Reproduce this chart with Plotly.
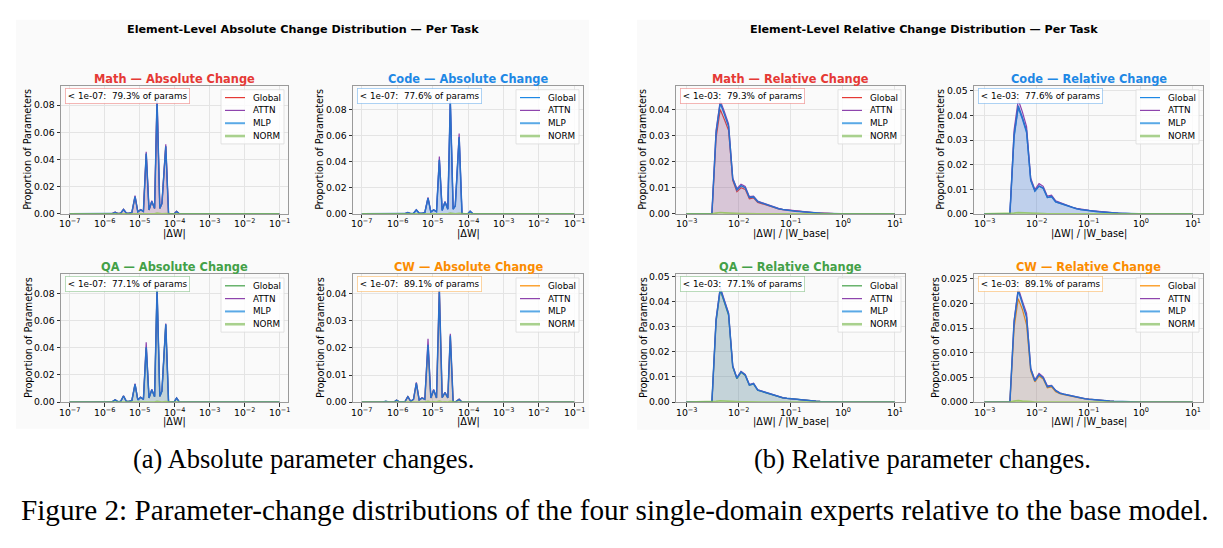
import plotly.graph_objects as go

W, H = 1223, 548

TASKS = ["Math", "Code", "QA", "CW"]
TASK_COLORS = {"Math": "#e53935", "Code": "#1e88e5", "QA": "#43a047", "CW": "#fb8c00"}
TASK_RGB = {"Math": (229, 57, 53), "Code": (30, 136, 229), "QA": (67, 160, 71), "CW": (251, 140, 0)}
PCT_BELOW = {"Math": "79.3%", "Code": "77.6%", "QA": "77.1%", "CW": "89.1%"}

# log10 bin centres
ABS_LOG10_X = [-7.00, -6.40, -6.32, -6.24, -6.16, -6.08, -6.02, -5.94, -5.86, -5.78,
               -5.70, -5.62, -5.54, -5.46, -5.38, -5.30, -5.22, -5.13, -5.05, -4.97,
               -4.89, -4.81, -4.73, -4.65, -4.57, -4.50, -4.42, -4.36, -4.25, -4.17,
               -4.08, -4.00, -3.94, -3.86, -1.00]
REL_LOG10_X = [-3.00, -2.51, -2.43, -2.35, -2.27, -2.19, -2.11, -2.03, -1.95, -1.87,
               -1.79, -1.71, -1.63, -1.55, -1.47, -1.39, -1.31, -1.23, -1.15, -1.07,
               -0.99, -0.91, -0.83, -0.75, -0.67, -0.59, -0.51, -0.43, -0.35, -0.27,
               -0.19, -0.11, -0.03, 1.00]

ABS_GLOBAL = {
    "Math": [0, 0, 0, 0, 0, 0, 0, 0, 0, 0.0002, 0.0012, 0.0002, 0.0005, 0.0032, 0.0006, 0.0004, 0.0010, 0.0125, 0.0015, 0.0030,
             0.0018, 0.0440, 0.0028, 0.0090, 0.0040, 0.0835, 0.0040, 0.0075, 0.0495, 0, 0, 0.0003, 0.0018, 0, 0],
    "Code": [0, 0, 0, 0, 0, 0, 0, 0, 0, 0.0002, 0.0010, 0.0002, 0.0004, 0.0030, 0.0005, 0.0004, 0.0010, 0.0120, 0.0014, 0.0030,
             0.0016, 0.0410, 0.0026, 0.0090, 0.0035, 0.0860, 0.0036, 0.0060, 0.0585, 0, 0, 0.0002, 0.0020, 0, 0],
    "QA":   [0, 0, 0, 0, 0, 0, 0, 0, 0.0001, 0.0003, 0.0017, 0.0003, 0.0006, 0.0045, 0.0006, 0.0005, 0.0012, 0.0130, 0.0016, 0.0035,
             0.0020, 0.0400, 0.0030, 0.0090, 0.0040, 0.0830, 0.0042, 0.0080, 0.0570, 0, 0, 0.0005, 0.0030, 0, 0],
    "CW":   [0, 0, 0.0003, 0, 0, 0.0001, 0.0007, 0.0001, 0.0001, 0.0002, 0.0020, 0.0003, 0.0010, 0.0068, 0.0008, 0.0015, 0.0010, 0.0205, 0.0015, 0.0044,
             0.0015, 0.0405, 0.0016, 0.0034, 0.0015, 0.0240, 0, 0, 0.0010, 0, 0, 0, 0, 0, 0],
}
ABS_ATTN = {
    "Math": [0, 0, 0, 0, 0, 0, 0, 0, 0, 0.0002, 0.0013, 0.0002, 0.0005, 0.0034, 0.0006, 0.0004, 0.0011, 0.0135, 0.0016, 0.0032,
             0.0019, 0.0458, 0.0030, 0.0097, 0.0042, 0.0866, 0.0042, 0.0079, 0.0512, 0, 0, 0.0003, 0.0019, 0, 0],
    "Code": [0, 0, 0, 0, 0, 0, 0, 0, 0, 0.0002, 0.0011, 0.0002, 0.0004, 0.0032, 0.0005, 0.0004, 0.0011, 0.0127, 0.0015, 0.0032,
             0.0017, 0.0440, 0.0028, 0.0096, 0.0037, 0.0880, 0.0038, 0.0064, 0.0618, 0, 0, 0.0002, 0.0021, 0, 0],
    "QA":   [0, 0, 0, 0, 0, 0, 0, 0, 0.0001, 0.0003, 0.0018, 0.0003, 0.0006, 0.0047, 0.0006, 0.0005, 0.0013, 0.0136, 0.0017, 0.0037,
             0.0021, 0.0442, 0.0032, 0.0094, 0.0042, 0.0845, 0.0044, 0.0083, 0.0580, 0, 0, 0.0005, 0.0031, 0, 0],
    "CW":   [0, 0, 0.0003, 0, 0, 0.0001, 0.0007, 0.0001, 0.0001, 0.0002, 0.0021, 0.0003, 0.0011, 0.0073, 0.0008, 0.0016, 0.0011, 0.0234, 0.0016, 0.0047,
             0.0016, 0.0422, 0.0017, 0.0036, 0.0016, 0.0252, 0, 0, 0.0011, 0, 0, 0, 0, 0, 0],
}
ABS_MLP = {
    "Math": [0, 0, 0, 0, 0, 0, 0, 0, 0, 0.0002, 0.0012, 0.0002, 0.0005, 0.0032, 0.0006, 0.0004, 0.0010, 0.0127, 0.0015, 0.0030,
             0.0018, 0.0445, 0.0029, 0.0091, 0.0040, 0.0840, 0.0040, 0.0076, 0.0498, 0, 0, 0.0003, 0.0018, 0, 0],
    "Code": [0, 0, 0, 0, 0, 0, 0, 0, 0, 0.0002, 0.0010, 0.0002, 0.0004, 0.0030, 0.0005, 0.0004, 0.0010, 0.0121, 0.0014, 0.0030,
             0.0016, 0.0415, 0.0026, 0.0091, 0.0035, 0.0865, 0.0036, 0.0061, 0.0590, 0, 0, 0.0002, 0.0020, 0, 0],
    "QA":   [0, 0, 0, 0, 0, 0, 0, 0, 0.0001, 0.0003, 0.0017, 0.0003, 0.0006, 0.0045, 0.0006, 0.0005, 0.0012, 0.0131, 0.0016, 0.0035,
             0.0020, 0.0405, 0.0030, 0.0091, 0.0040, 0.0835, 0.0042, 0.0081, 0.0574, 0, 0, 0.0005, 0.0030, 0, 0],
    "CW":   [0, 0, 0.0003, 0, 0, 0.0001, 0.0007, 0.0001, 0.0001, 0.0002, 0.0020, 0.0003, 0.0010, 0.0070, 0.0008, 0.0015, 0.0010, 0.0212, 0.0015, 0.0045,
             0.0015, 0.0412, 0.0016, 0.0035, 0.0015, 0.0246, 0, 0, 0.0010, 0, 0, 0, 0, 0, 0],
}
ABS_NORM = {
    "Math": [0, 0, 0, 0, 0, 0, 0, 0, 0, 0, 0, 0, 0, 0.0001, 0, 0, 0, 0.0003, 0, 0.0001,
             0, 0.0005, 0, 0.0002, 0, 0.0006, 0, 0.0001, 0.0003, 0, 0, 0, 0, 0, 0],
    "Code": [0, 0, 0, 0, 0, 0, 0, 0, 0, 0, 0, 0, 0, 0.0001, 0, 0, 0, 0.0002, 0, 0.0001,
             0, 0.0004, 0, 0.0002, 0, 0.0006, 0, 0.0001, 0.0004, 0, 0, 0, 0, 0, 0],
    "QA":   [0, 0, 0, 0, 0, 0, 0, 0, 0, 0, 0, 0, 0, 0.0001, 0, 0, 0, 0.0003, 0, 0.0001,
             0, 0.0004, 0, 0.0002, 0, 0.0006, 0, 0.0001, 0.0004, 0, 0, 0, 0, 0, 0],
    "CW":   [0, 0, 0, 0, 0, 0, 0, 0, 0, 0, 0.0001, 0, 0, 0.0002, 0, 0, 0, 0.0003, 0, 0.0001,
             0, 0.0004, 0, 0.0001, 0, 0.0003, 0, 0, 0, 0, 0, 0, 0, 0, 0],
}

REL_GLOBAL = {
    "Math": [0, 0, 0.0290, 0.0400, 0.0362, 0.0320, 0.0128, 0.0085, 0.0100, 0.0094, 0.0058, 0.0061, 0.0044, 0.0039, 0.0033, 0.0028, 0.0023,
             0.0019, 0.0016, 0.0014, 0.0012, 0.0010, 0.00085, 0.0007, 0.00057, 0.00045, 0.00035, 0.00026, 0.00018, 0.00012, 0.00007, 0.00004, 0.00002, 0],
    "Code": [0, 0, 0.0310, 0.0430, 0.0385, 0.0330, 0.0135, 0.0092, 0.0112, 0.0103, 0.0066, 0.0069, 0.0048, 0.0042, 0.0036, 0.0030, 0.0025,
             0.0021, 0.0017, 0.0015, 0.0013, 0.0011, 0.0009, 0.00075, 0.0006, 0.00047, 0.00036, 0.00027, 0.00019, 0.00012, 0.00007, 0.00004, 0.00002, 0],
    "QA":   [0, 0, 0.0320, 0.0444, 0.0395, 0.0345, 0.0140, 0.0093, 0.0118, 0.0106, 0.0067, 0.0072, 0.0047, 0.0042, 0.0036, 0.0030, 0.0025,
             0.0021, 0.0017, 0.0015, 0.0013, 0.0011, 0.0009, 0.00075, 0.0006, 0.00047, 0.00036, 0.00027, 0.00019, 0.00012, 0.00007, 0.00004, 0.00002, 0],
    "CW":   [0, 0, 0.0150, 0.0210, 0.0188, 0.0157, 0.0063, 0.0041, 0.0053, 0.0047, 0.0029, 0.0031, 0.0021, 0.0017, 0.0015, 0.0013, 0.0011,
             0.0009, 0.0008, 0.00068, 0.00058, 0.00048, 0.0004, 0.00033, 0.00027, 0.00021, 0.00016, 0.00012, 0.00008, 0.00005, 0.00003, 0.00002, 0.00001, 0],
}
REL_ATTN = {
    "Math": [0, 0, 0.0320, 0.0434, 0.0392, 0.0345, 0.0138, 0.0097, 0.0114, 0.0105, 0.0066, 0.0068, 0.0049, 0.0043, 0.0036, 0.0030, 0.0025,
             0.0021, 0.0017, 0.0015, 0.0013, 0.0011, 0.0009, 0.00075, 0.0006, 0.00047, 0.00036, 0.00027, 0.00019, 0.00012, 0.00007, 0.00004, 0.00002, 0],
    "Code": [0, 0, 0.0340, 0.0464, 0.0415, 0.0355, 0.0145, 0.0099, 0.0123, 0.0112, 0.0072, 0.0076, 0.0053, 0.0046, 0.0039, 0.0033, 0.0027,
             0.0023, 0.0019, 0.0016, 0.0014, 0.0012, 0.0010, 0.0008, 0.00065, 0.0005, 0.00038, 0.00028, 0.0002, 0.00013, 0.00008, 0.00004, 0.00002, 0],
    "QA":   [0, 0, 0.0330, 0.0457, 0.0405, 0.0355, 0.0145, 0.0097, 0.0122, 0.0110, 0.0070, 0.0075, 0.0049, 0.0044, 0.0037, 0.0031, 0.0026,
             0.0022, 0.0018, 0.0015, 0.0013, 0.0011, 0.0009, 0.00077, 0.00062, 0.00048, 0.00037, 0.00027, 0.00019, 0.00012, 0.00007, 0.00004, 0.00002, 0],
    "CW":   [0, 0, 0.0165, 0.0231, 0.0205, 0.0180, 0.0069, 0.0045, 0.0058, 0.0051, 0.0033, 0.0034, 0.0024, 0.0019, 0.0016, 0.0014, 0.0012,
             0.0010, 0.00085, 0.00072, 0.00061, 0.00051, 0.00042, 0.00035, 0.00028, 0.00022, 0.00017, 0.00012, 0.00008, 0.00005, 0.00003, 0.00002, 0.00001, 0],
}
REL_MLP = {
    "Math": [0, 0, 0.0310, 0.0425, 0.0382, 0.0336, 0.0134, 0.0092, 0.0108, 0.0100, 0.0063, 0.0065, 0.0047, 0.0041, 0.0035, 0.0029, 0.0024,
             0.0020, 0.0017, 0.0014, 0.0012, 0.0010, 0.00087, 0.00072, 0.00058, 0.00046, 0.00035, 0.00026, 0.00018, 0.00012, 0.00007, 0.00004, 0.00002, 0],
    "Code": [0, 0, 0.0320, 0.0440, 0.0392, 0.0337, 0.0138, 0.0094, 0.0114, 0.0105, 0.0067, 0.0071, 0.0049, 0.0043, 0.0037, 0.0031, 0.0026,
             0.0021, 0.0018, 0.0015, 0.0013, 0.0011, 0.0009, 0.00076, 0.0006, 0.00047, 0.00036, 0.00027, 0.00019, 0.00012, 0.00007, 0.00004, 0.00002, 0],
    "QA":   [0, 0, 0.0325, 0.0450, 0.0400, 0.0350, 0.0142, 0.0095, 0.0120, 0.0108, 0.0068, 0.0073, 0.0048, 0.0043, 0.0036, 0.0030, 0.0025,
             0.0021, 0.0017, 0.0015, 0.0013, 0.0011, 0.0009, 0.00075, 0.0006, 0.00047, 0.00036, 0.00027, 0.00019, 0.00012, 0.00007, 0.00004, 0.00002, 0],
    "CW":   [0, 0, 0.0162, 0.0227, 0.0200, 0.0172, 0.0067, 0.0043, 0.0056, 0.0049, 0.0031, 0.0033, 0.0023, 0.0018, 0.0016, 0.0014, 0.0012,
             0.0010, 0.0008, 0.0007, 0.0006, 0.0005, 0.0004, 0.00034, 0.00027, 0.00021, 0.00016, 0.00012, 0.00008, 0.00005, 0.00003, 0.00002, 0.00001, 0],
}
REL_NORM = {
    "Math": [0, 0, 0.0003, 0.0005, 0.0004, 0.0003, 0.0001, 0.0001, 0.0001, 0.0001, 0, 0, 0, 0, 0, 0, 0,
             0, 0, 0, 0, 0, 0, 0, 0, 0, 0, 0, 0, 0, 0, 0, 0, 0],
    "Code": [0, 0, 0.0003, 0.0005, 0.0004, 0.0003, 0.0001, 0.0001, 0.0001, 0.0001, 0, 0, 0, 0, 0, 0, 0,
             0, 0, 0, 0, 0, 0, 0, 0, 0, 0, 0, 0, 0, 0, 0, 0, 0],
    "QA":   [0, 0, 0.0003, 0.0005, 0.0004, 0.0003, 0.0001, 0.0001, 0.0001, 0.0001, 0, 0, 0, 0, 0, 0, 0,
             0, 0, 0, 0, 0, 0, 0, 0, 0, 0, 0, 0, 0, 0, 0, 0, 0],
    "CW":   [0, 0, 0.0002, 0.0003, 0.0002, 0.0002, 0.0001, 0, 0, 0, 0, 0, 0, 0, 0, 0, 0,
             0, 0, 0, 0, 0, 0, 0, 0, 0, 0, 0, 0, 0, 0, 0, 0, 0],
}

ABS_YMAX = {"Math": 0.0943, "Code": 0.0984, "QA": 0.0945, "CW": 0.0473}
REL_YMAX = {"Math": 0.0491, "Code": 0.0521, "QA": 0.0509, "CW": 0.0260}
ABS_YDTICK = {"Math": 0.02, "Code": 0.02, "QA": 0.02, "CW": 0.01}
REL_YDTICK = {"Math": 0.01, "Code": 0.01, "QA": 0.01, "CW": 0.005}
ABS_XTICK_EXP = [-7, -6, -5, -4, -3, -2, -1]
REL_XTICK_EXP = [-3, -2, -1, 0, 1]

SERIES_STYLE = {
    "ATTN": "#8e44ad",
    "MLP": "#2b6fca",
    "NORM": "#8bc34a",
}
LEGEND_STYLE = [("Global", None, 1.2), ("ATTN", "#8e44ad", 1.2), ("MLP", "#5aa9e6", 2.0), ("NORM", "#a9d18e", 2.6)]

# ---------------- layout geometry (pixels) ----------------
PANELS = [
    ("abs", "Math", (61, 84, 288, 214)),
    ("abs", "Code", (353, 84, 583, 214)),
    ("abs", "QA", (61, 275, 288, 405)),
    ("abs", "CW", (353, 275, 583, 405)),
    ("rel", "Math", (676, 84, 905, 214)),
    ("rel", "Code", (974, 84, 1203, 214)),
    ("rel", "QA", (676, 275, 905, 405)),
    ("rel", "CW", (974, 275, 1203, 405)),
]

FONT = "DejaVu Sans"
SERIF = "Liberation Serif, Times New Roman, serif"


def fx(px):
    return px / W


def fy(py):
    return 1 - py / H


def rgba(rgb, a):
    return "rgba(%d,%d,%d,%.3f)" % (rgb[0], rgb[1], rgb[2], a)


def sup_label(e):
    if e < 0:
        return "10<sup>\u2212%d</sup>" % (-e)
    return "10<sup>%d</sup>" % e


fig = go.Figure()
layout = dict(
    width=W, height=H, margin=dict(l=0, r=0, t=0, b=0),
    paper_bgcolor="white", plot_bgcolor="#fafafa", showlegend=False,
    hovermode=False, font=dict(family=FONT, size=9, color="#000000"),
)
shapes = []
annotations = []

# gray group backgrounds
for (x0, y0, x1, y1) in [(16, 17, 589, 432), (637, 17, 1210, 433)]:
    shapes.append(dict(type="rect", xref="paper", yref="paper", x0=fx(x0), x1=fx(x1),
                       y0=fy(y1), y1=fy(y0), fillcolor="#fafafa", line=dict(width=0), layer="below"))

# group titles
for text, cx in [("Element-Level Absolute Change Distribution \u2014 Per Task", 302.5),
                 ("Element-Level Relative Change Distribution \u2014 Per Task", 923.5)]:
    annotations.append(dict(text="<b>%s</b>" % text, x=fx(cx), y=fy(27), xref="paper", yref="paper",
                            showarrow=False, xanchor="center", yanchor="middle",
                            font=dict(family=FONT, size=11.2, color="#000")))

for i, (kind, task, box) in enumerate(PANELS, start=1):
    l, t, r, b = box
    xname = "xaxis" if i == 1 else "xaxis%d" % i
    yname = "yaxis" if i == 1 else "yaxis%d" % i
    xref = "x" if i == 1 else "x%d" % i
    yref = "y" if i == 1 else "y%d" % i
    tcol = TASK_COLORS[task]
    trgb = TASK_RGB[task]

    if kind == "abs":
        xs_log = ABS_LOG10_X
        data = [("Global", ABS_GLOBAL[task]), ("ATTN", ABS_ATTN[task]), ("MLP", ABS_MLP[task]), ("NORM", ABS_NORM[task])]
        xexp = ABS_XTICK_EXP
        xrange = [-7.25, -0.75]
        ymax = ABS_YMAX[task]
        dt = ABS_YDTICK[task]
        fmt = ".2f"
        thr = "1e-07"
        xlabel = "|\u0394W|"
        title = "%s \u2014 Absolute Change" % task
        ylab_off = 33
    else:
        xs_log = REL_LOG10_X
        data = [("Global", REL_GLOBAL[task]), ("ATTN", REL_ATTN[task]), ("MLP", REL_MLP[task]), ("NORM", REL_NORM[task])]
        xexp = REL_XTICK_EXP
        xrange = [-3.2, 1.2]
        ymax = REL_YMAX[task]
        dt = REL_YDTICK[task]
        fmt = ".3f" if dt < 0.01 else ".2f"
        thr = "1e-03"
        xlabel = "|\u0394W| / |W_base|"
        title = "%s \u2014 Relative Change" % task
        ylab_off = 39 if dt < 0.01 else 33

    xs = [10 ** e for e in xs_log]
    for name, ys in data:
        if name == "Global":
            lc, lw, fc = tcol, 1.2, rgba(trgb, 0.15)
        elif name == "ATTN":
            lc, lw, fc = SERIES_STYLE["ATTN"], 1.2, "rgba(142,68,173,0.10)"
        elif name == "MLP":
            lc, lw, fc = SERIES_STYLE["MLP"], 1.5, "rgba(52,152,219,0.10)"
        else:
            lc, lw, fc = "rgba(139,195,74,0.75)", 1.6, "rgba(139,195,74,0.10)"
        fig.add_trace(go.Scatter(x=xs, y=ys, mode="lines", name=name,
                                 line=dict(color=lc, width=lw), fill="tozeroy", fillcolor=fc,
                                 xaxis=xref, yaxis=yref, hoverinfo="skip"))

    layout[xname] = dict(
        domain=[fx(l), fx(r)], anchor=yref, type="log", range=xrange,
        tickvals=[10 ** e for e in xexp], showticklabels=False,
        showline=True, mirror=True, linecolor="#9a9a9a", linewidth=1,
        ticks="outside", ticklen=3.5, tickwidth=0.8, tickcolor="#333",
        showgrid=True, gridcolor="#e4e4e4", gridwidth=0.7, zeroline=False,
        fixedrange=True,
    )
    layout[yname] = dict(
        domain=[fy(b), fy(t)], anchor=xref, range=[0, ymax], tick0=0, dtick=dt, tickformat=fmt,
        showline=True, mirror=True, linecolor="#9a9a9a", linewidth=1,
        ticks="outside", ticklen=3.5, tickwidth=0.8, tickcolor="#333",
        showgrid=True, gridcolor="#e4e4e4", gridwidth=0.7, zeroline=False,
        tickfont=dict(family=FONT, size=9.3, color="#000"), fixedrange=True,
    )

    # x tick labels (mathtext-like superscripts), placed right under the tick marks
    for e in xexp:
        annotations.append(dict(text=sup_label(e), x=e, y=fy(b + 1.5), xref=xref, yref="paper",
                                showarrow=False, xanchor="center", yanchor="top",
                                font=dict(family=FONT, size=9.3, color="#000")))

    # subplot title
    annotations.append(dict(text="<b>%s</b>" % title, x=fx((l + r) / 2), y=fy(t - 7), xref="paper", yref="paper",
                            showarrow=False, xanchor="center", yanchor="middle",
                            font=dict(family=FONT, size=11.4, color=tcol)))
    # axis labels
    annotations.append(dict(text=xlabel, x=fx((l + r) / 2), y=fy(b + 20), xref="paper", yref="paper",
                            showarrow=False, xanchor="center", yanchor="middle",
                            font=dict(family=FONT, size=9.7, color="#000")))
    annotations.append(dict(text="Proportion of Parameters", x=fx(l - ylab_off), y=fy((t + b) / 2),
                            xref="paper", yref="paper", showarrow=False, textangle=-90,
                            xanchor="center", yanchor="middle",
                            font=dict(family=FONT, size=9.7, color="#000")))
    # threshold box
    annotations.append(dict(text="&lt; %s:\u00a0 %s of params" % (thr, PCT_BELOW[task]),
                            x=fx(l + 4), y=fy(t + 2), xref="paper", yref="paper", showarrow=False,
                            xanchor="left", yanchor="top", bgcolor="rgba(255,255,255,0.9)",
                            bordercolor=rgba(trgb, 0.45), borderwidth=0.8, borderpad=2,
                            font=dict(family=FONT, size=8.8, color="#000")))
    # legend box
    lx1 = r - 4
    lx0 = lx1 - 63
    ly0 = t + 4
    ly1 = ly0 + 55
    shapes.append(dict(type="rect", xref="paper", yref="paper", x0=fx(lx0), x1=fx(lx1), y0=fy(ly1), y1=fy(ly0),
                       fillcolor="rgba(255,255,255,0.8)", line=dict(color="#dcdcdc", width=0.8)))
    for k, (lab, col, lw) in enumerate(LEGEND_STYLE):
        yy = ly0 + 8 + k * 13
        shapes.append(dict(type="line", xref="paper", yref="paper", x0=fx(lx0 + 4), x1=fx(lx0 + 24),
                           y0=fy(yy), y1=fy(yy), line=dict(color=col if col else tcol, width=lw)))
        annotations.append(dict(text=lab, x=fx(lx0 + 30), y=fy(yy), xref="paper", yref="paper",
                                showarrow=False, xanchor="left", yanchor="middle",
                                font=dict(family=FONT, size=8.8, color="#000")))

# captions
annotations.append(dict(text="(a) Absolute parameter changes.", x=fx(303.5), y=fy(463), xref="paper", yref="paper",
                        showarrow=False, xanchor="center", yanchor="middle",
                        font=dict(family=SERIF, size=26.5, color="#000")))
annotations.append(dict(text="(b) Relative parameter changes.", x=fx(922), y=fy(463), xref="paper", yref="paper",
                        showarrow=False, xanchor="center", yanchor="middle",
                        font=dict(family=SERIF, size=26.5, color="#000")))
annotations.append(dict(text="Figure 2: Parameter-change distributions of the four single-domain experts relative to the base model.",
                        x=fx(615), y=fy(515), xref="paper", yref="paper",
                        showarrow=False, xanchor="center", yanchor="middle",
                        font=dict(family=SERIF, size=29.2, color="#000")))

layout["shapes"] = shapes
layout["annotations"] = annotations
fig.update_layout(**layout)
fig.write_html("out.html", config={"displayModeBar": False})
